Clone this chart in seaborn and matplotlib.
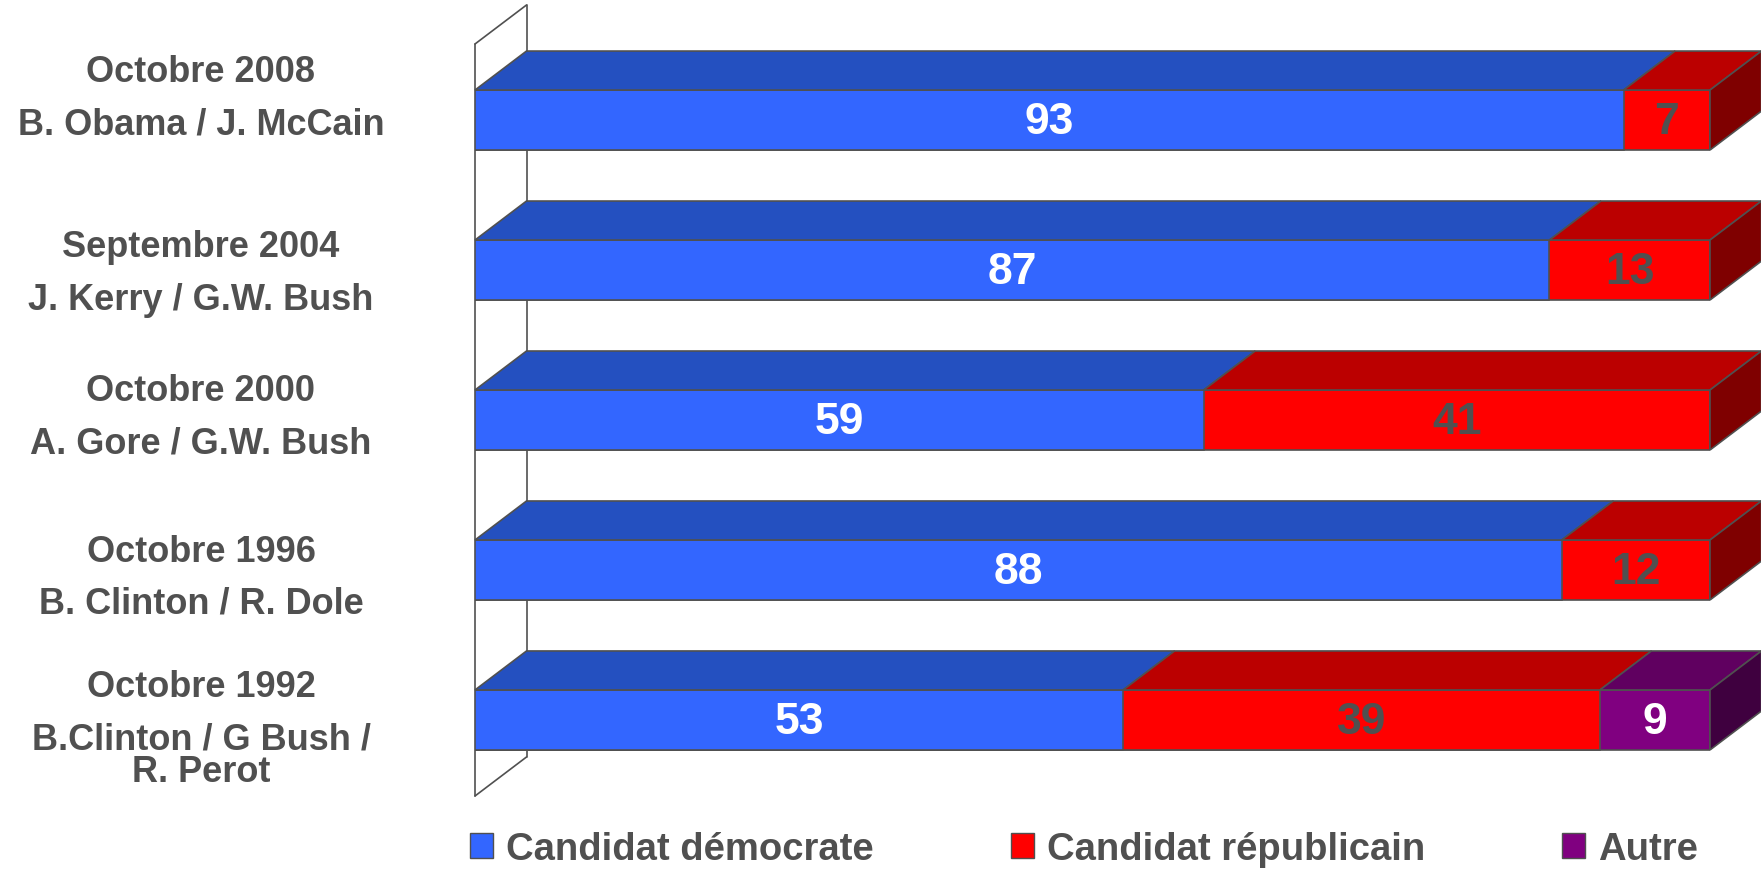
import numpy as np
import pandas as pd
import seaborn as sns
import matplotlib.pyplot as plt
from matplotlib.patches import Polygon, Patch

# data
polls = ["Octobre 2008", "Septembre 2004", "Octobre 2000", "Octobre 1996", "Octobre 1992"]
duels = ["B. Obama / J. McCain", "J. Kerry / G.W. Bush", "A. Gore / G.W. Bush",
         "B. Clinton / R. Dole", "B.Clinton / G Bush /\nR. Perot"]
democrate = [93, 87, 59, 88, 53]
republicain = [7, 13, 41, 12, 39]
autre = [0, 0, 0, 0, 9]
series_names = ["Candidat démocrate", "Candidat républicain", "Autre"]

# colours: front / top / side
front = ["#3366FF", "#FF0000", "#800080"]
top = ["#2450C0", "#BB0000", "#600060"]
side = ["#1A3A90", "#7F0000", "#3F003F"]
edge = "#505050"
grey = "#505050"

sns.set_style("white")
plt.rcParams["font.family"] = ["Liberation Sans", "DejaVu Sans"]
plt.rcParams["font.weight"] = "bold"

W, H = 1761, 870
fig = plt.figure(figsize=(W / 100, H / 100), dpi=100)
ax = fig.add_axes([475 / W, 1 - 797 / H, 1235 / W, 752 / H])

df = pd.DataFrame({"poll": polls, "dem": democrate, "rep": republicain, "aut": autre})
total = df[["dem", "rep", "aut"]].sum(axis=1)
cols = ["dem", "rep", "aut"]
for c in cols:
    df[c + "_pct"] = df[c] / total * 100
df["dem_end"] = df["dem_pct"]
df["rep_end"] = df["dem_end"] + df["rep_pct"]
df["aut_end"] = df["rep_end"] + df["aut_pct"]

bar_h = 0.4
# stacked front faces: draw cumulative totals, largest first
for c, col in zip(["aut", "rep", "dem"], [front[2], front[1], front[0]]):
    sub = df[df[c] > 0]
    sns.barplot(data=sub, x=c + "_end", y="poll", order=polls, orient="h",
                color=col, saturation=1, width=bar_h, errorbar=None,
                edgecolor=edge, linewidth=1.2, ax=ax, zorder=2)

ax.set_xlim(0, 100)
ax.set_ylim(4.507, -0.507)
ax.axis("off")

# depth of the 3D effect, in data units
dx = 51.5 / 1235 * 100
dy = 39 / 150

# walls
y0, y1 = -0.507, 4.507
wall = dict(color=edge, lw=1.2, clip_on=False, zorder=0.5)
ax.plot([0, 0], [y0, y1], **wall)
ax.plot([dx, dx], [y0 - dy, y1 - dy], **wall)
ax.plot([0, dx], [y0, y0 - dy], **wall)
ax.plot([0, dx], [y1, y1 - dy], **wall)

# top and side faces, value labels
for i, row in df.iterrows():
    ytop = i - bar_h / 2
    ybot = i + bar_h / 2
    start = 0
    segs = [(k, row[c], row[c + "_pct"]) for k, c in enumerate(cols) if row[c] > 0]
    for j, (k, val, pct) in enumerate(segs):
        x0, x1 = start, start + pct
        ax.add_patch(Polygon([(x0, ytop), (x1, ytop), (x1 + dx, ytop - dy), (x0 + dx, ytop - dy)],
                             closed=True, facecolor=top[k], edgecolor=edge, lw=1.2,
                             clip_on=False, zorder=3))
        if j == len(segs) - 1:
            ax.add_patch(Polygon([(x1, ytop), (x1, ybot), (x1 + dx, ybot - dy), (x1 + dx, ytop - dy)],
                                 closed=True, facecolor=side[k], edgecolor=edge, lw=1.2,
                                 clip_on=False, zorder=3))
        tc = grey if k == 1 else "white"
        ax.text((x0 + x1) / 2, i + 0.089, str(int(val)), ha="center", va="baseline",
                fontsize=32, fontweight="bold", color=tc, zorder=5)
        start = x1

# left labels: poll line and candidates (cap centre of the last line, pixels)
poll_y = [68.7, 244.2, 388.3, 548.7, 684]
duel_y = [121.2, 297.5, 440.8, 600.3, 769]
for poll, duel, yp, yd in zip(polls, duels, poll_y, duel_y):
    fig.text(201 / W, 1 - (yp + 12.9) / H, poll, ha="center", va="baseline",
             fontsize=26, fontweight="bold", color=grey)
    # wrapped names are set tight, as in the original
    fig.text(201 / W, 1 - (yd + 12.9) / H, duel, ha="center", va="baseline",
             fontsize=26, fontweight="bold", color=grey, linespacing=0.89,
             multialignment="center")

handles = [Patch(facecolor=c, edgecolor=edge, lw=1) for c in front]
fig.legend(handles, series_names, loc="center left", bbox_to_anchor=(470 / W, 1 - 850 / H),
           ncol=3, frameon=False, borderpad=0, borderaxespad=0,
           prop={"size": 27.5, "weight": "bold"}, labelcolor=grey,
           handlelength=0.6, handleheight=0.63, handletextpad=0.34, columnspacing=3.59)

fig.savefig("out.png", dpi=100)
